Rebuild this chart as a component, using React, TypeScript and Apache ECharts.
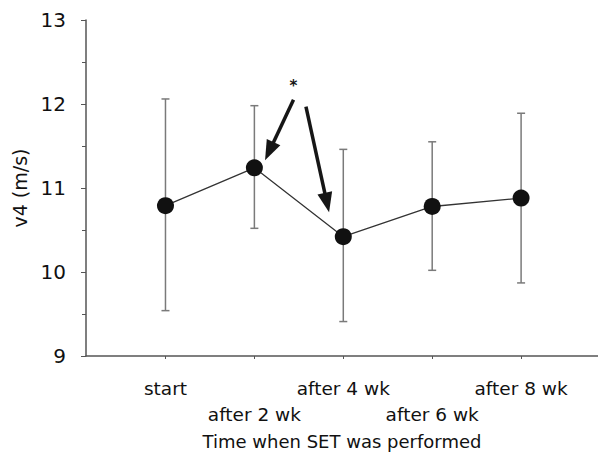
import React, { useEffect, useRef } from "react";
import * as echarts from "echarts";

const categories = ["start", "after 2 wk", "after 4 wk", "after 6 wk", "after 8 wk"];
const means = [10.79, 11.24, 10.42, 10.78, 10.88];
const lows = [9.54, 10.52, 9.41, 10.02, 9.87];
const highs = [12.06, 11.98, 11.46, 11.55, 11.89];
const yTicks = [9, 10, 11, 12, 13];
// arrows: [tailX, tailY, tipX, tipY] in data units
const arrows = [
  [1.44, 12.05, 1.12, 11.33],
  [1.58, 11.97, 1.84, 10.71],
];
const starPos = [1.44, 12.26];

const FONT = "DejaVu Sans";
const X_MIN = -0.894;
const X_MAX = 4.865;

export default function App() {
  const ref = useRef<HTMLDivElement>(null);
  useEffect(() => {
    const chart = echarts.init(ref.current!, null, { renderer: "svg" });
    const idx = categories.map((_, i) => i);
    const evenIdx = idx.filter((i) => i % 2 === 0);
    const oddIdx = idx.filter((i) => i % 2 === 1);
    const labelStyle = {
      show: true,
      showMaxLabel: true,
      showMinLabel: true,
      hideOverlap: false,
      formatter: (v: number) => categories[Math.round(v)],
      fontFamily: FONT,
      fontSize: 18.5,
      color: "#111",
      lineHeight: 26,
    };
    chart.setOption({
      animation: false,
      backgroundColor: "#ffffff",
      grid: { left: 86, right: 0, top: 20, bottom: 98, containLabel: false, outerBoundsMode: "none" },
      xAxis: [
        {
          type: "value",
          min: X_MIN,
          max: X_MAX,
          splitLine: { show: false },
          axisLine: { show: true, onZero: false, lineStyle: { color: "#555", width: 1.5 } },
          axisTick: { show: true, customValues: idx, length: 3, lineStyle: { color: "#555" } },
          axisLabel: { ...labelStyle, customValues: evenIdx, margin: 19 },
          name: "Time when SET was performed",
          nameLocation: "middle",
          nameGap: 76,
          nameTextStyle: { fontFamily: FONT, fontSize: 18, color: "#111" },
        },
        {
          type: "value",
          position: "bottom",
          offset: 0,
          min: X_MIN,
          max: X_MAX,
          splitLine: { show: false },
          axisLine: { show: false, onZero: false },
          axisTick: { show: false },
          axisLabel: { ...labelStyle, customValues: oddIdx, margin: 45 },
        },
      ],
      yAxis: {
        type: "value",
        min: yTicks[0],
        max: yTicks[yTicks.length - 1],
        interval: 1,
        splitLine: { show: false },
        axisLine: { show: true, onZero: false, lineStyle: { color: "#555", width: 1.5 } },
        axisTick: { show: true, length: 5, lineStyle: { color: "#555" } },
        minorTick: { show: true, splitNumber: 2, length: 4, lineStyle: { color: "#555" } },
        axisLabel: { fontFamily: FONT, fontSize: 20, color: "#111", margin: 20 },
        name: "v4 (m/s)",
        nameLocation: "middle",
        nameGap: 52,
        nameTextStyle: { fontFamily: FONT, fontSize: 19, color: "#111" },
      },
      series: [
        {
          type: "custom",
          z: 1,
          silent: true,
          xAxisIndex: 0,
          data: idx.map((i) => [i, lows[i], highs[i]]),
          encode: { x: 0, y: [1, 2] },
          renderItem: (params: any, api: any) => {
            const x = api.value(0);
            const top = api.coord([x, api.value(2)]);
            const bot = api.coord([x, api.value(1)]);
            const cap = 4;
            const st = { stroke: "#7a7a7a", lineWidth: 1.5 };
            return {
              type: "group",
              children: [
                { type: "line", shape: { x1: top[0], y1: top[1], x2: bot[0], y2: bot[1] }, style: st },
                { type: "line", shape: { x1: top[0] - cap, y1: top[1], x2: top[0] + cap, y2: top[1] }, style: st },
                { type: "line", shape: { x1: bot[0] - cap, y1: bot[1], x2: bot[0] + cap, y2: bot[1] }, style: st },
              ],
            };
          },
        },
        {
          type: "line",
          z: 3,
          xAxisIndex: 0,
          data: idx.map((i) => [i, means[i]]),
          symbol: "circle",
          symbolSize: 17,
          lineStyle: { color: "#333", width: 1.3 },
          itemStyle: { color: "#111", borderWidth: 0 },
          silent: true,
        },
        {
          type: "custom",
          z: 4,
          silent: true,
          xAxisIndex: 0,
          data: arrows,
          encode: { x: [0, 2], y: [1, 3] },
          renderItem: (params: any, api: any) => {
            const t = api.coord([api.value(0), api.value(1)]);
            const p = api.coord([api.value(2), api.value(3)]);
            const dx = p[0] - t[0];
            const dy = p[1] - t[1];
            const len = Math.sqrt(dx * dx + dy * dy);
            const ux = dx / len;
            const uy = dy / len;
            const L = 20;
            const W = 15;
            const bx = p[0] - ux * L;
            const by = p[1] - uy * L;
            const nx = -uy;
            const ny = ux;
            return {
              type: "group",
              children: [
                {
                  type: "line",
                  shape: { x1: t[0], y1: t[1], x2: bx + ux * 2, y2: by + uy * 2 },
                  style: { stroke: "#161616", lineWidth: 3.5 },
                },
                {
                  type: "polygon",
                  shape: {
                    points: [
                      [p[0], p[1]],
                      [bx + (nx * W) / 2, by + (ny * W) / 2],
                      [bx - (nx * W) / 2, by - (ny * W) / 2],
                    ],
                  },
                  style: { fill: "#161616" },
                },
              ],
            };
          },
        },
        {
          type: "custom",
          z: 4,
          silent: true,
          xAxisIndex: 0,
          data: [starPos],
          encode: { x: 0, y: 1 },
          renderItem: (params: any, api: any) => {
            const c = api.coord([api.value(0), api.value(1)]);
            return {
              type: "text",
              x: c[0],
              y: c[1] + 4,
              style: {
                text: "*",
                fill: "#161616",
                fontFamily: FONT,
                fontSize: 15,
                fontWeight: "bold",
                align: "center",
                verticalAlign: "middle",
              },
            };
          },
        },
      ],
    });
    return () => chart.dispose();
  }, []);
  return (
    <div
      ref={ref}
      style={{ position: "fixed", left: 0, top: 0, width: 598, height: 454 }}
    />
  );
}
